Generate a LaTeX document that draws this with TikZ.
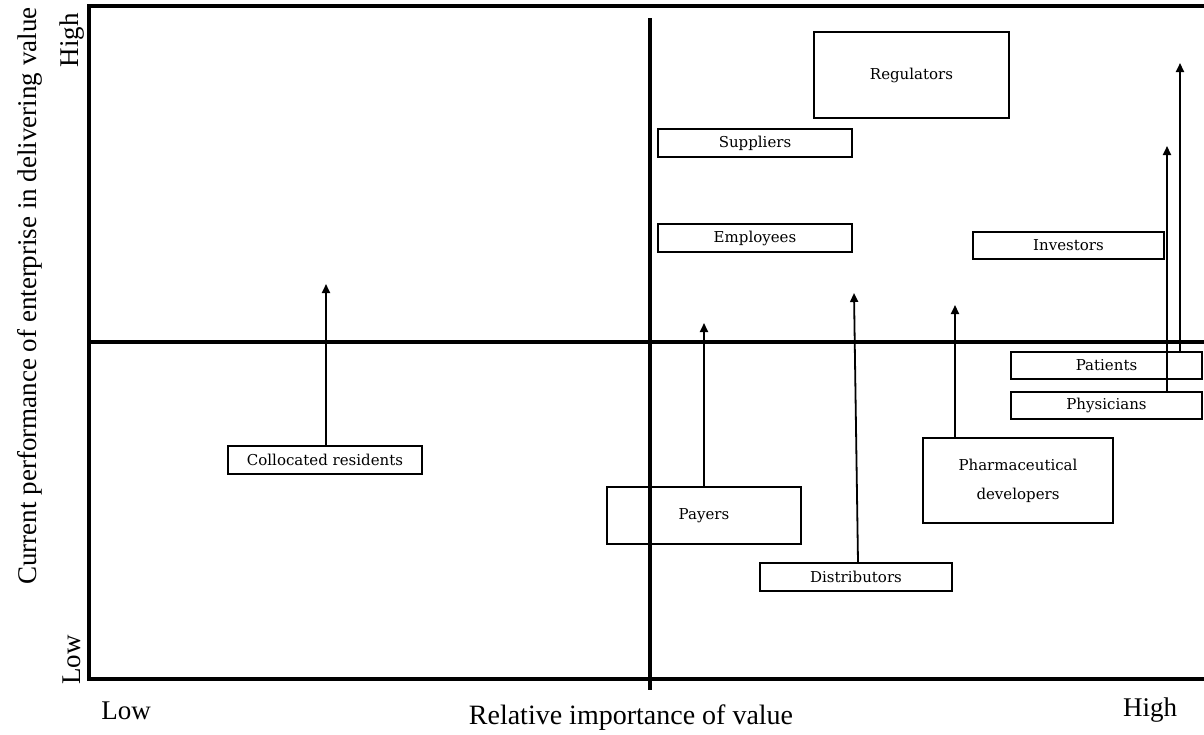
\documentclass[tikz,border=0pt]{standalone}
\usepackage{fontspec}
\setmainfont{Liberation Serif}
\newfontfamily\boxfont{DejaVu Serif}
\usetikzlibrary{arrows.meta}
\begin{document}
\begin{tikzpicture}[x=1pt,y=-1pt,
  frameline/.style={line width=3.3pt},
  stake/.style={draw, line width=1.3pt, rectangle, inner sep=0pt,
    font=\boxfont\fontsize{15}{29}\selectfont, align=center},
  arr/.style={line width=1.8pt, -{Triangle[length=9pt,width=8pt]}},
  axistext/.style={font=\fontsize{27}{30}\selectfont, inner sep=0pt}]
\useasboundingbox (0,0) rectangle (1204,734);

% quadrant frame and axes
\draw[frameline] (1204,6) -- (89,6) -- (89,679) -- (1204,679);
\draw[frameline] (89,342) -- (1204,342);
\draw[frameline, line width=3.8pt] (650,18) -- (650,690);

% axis texts
\node[axistext, rotate=90] (ytitle) at (30,296) {Current performance of enterprise in delivering value};
\node[axistext, rotate=90] (yhigh) at (72,40) {High};
\node[axistext, rotate=90] (ylow) at (72,660) {Low};
\node[axistext] (xlow) at (126,711) {Low};
\node[axistext, font=\fontsize{28}{30}\selectfont] (xtitle) at (631,718) {Relative importance of value};
\node[axistext] (xhigh) at (1150,710) {High};

% stakeholder boxes
\node[stake, minimum width=195pt, minimum height=86pt] (reg) at (911.5,75) {Regulators};
\node[stake, minimum width=194pt, minimum height=28pt] (sup) at (755,143) {Suppliers};
\node[stake, minimum width=194pt, minimum height=28pt] (emp) at (755,238) {Employees};
\node[stake, minimum width=191pt, minimum height=27pt] (inv) at (1068.5,245.5) {Investors};
\node[stake, minimum width=191pt, minimum height=27pt] (pat) at (1106.5,365.5) {Patients};
\node[stake, minimum width=191pt, minimum height=27pt] (phy) at (1106.5,405.5) {Physicians};
\node[stake, minimum width=194pt, minimum height=28pt] (col) at (325,460) {Collocated residents};
\node[stake, minimum width=194pt, minimum height=57pt] (pay) at (704,515.5) {Payers};
\node[stake, minimum width=192pt, minimum height=28pt] (dis) at (856,577) {Distributors};
\node[stake, minimum width=190pt, minimum height=85pt] (pha) at (1018,480.5) {Pharmaceutical\\developers};

% arrow targets
\coordinate (colT) at (326,284);
\coordinate (payT) at (704,323);
\coordinate (disB) at (858,0);
\coordinate (disT) at (854,293);
\coordinate (phaT) at (955,305);
\coordinate (phyT) at (1167,146);
\coordinate (patT) at (1180,63);

% movement arrows
\draw[arr] (col.north -| colT) -- (colT);
\draw[arr] (pay.north -| payT) -- (payT);
\draw[arr] (dis.north -| disB) -- (disT);
\draw[arr] (pha.north -| phaT) -- (phaT);
\draw[arr] (phy.north -| phyT) -- (phyT);
\draw[arr] (pat.north -| patT) -- (patT);
\end{tikzpicture}
\end{document}
